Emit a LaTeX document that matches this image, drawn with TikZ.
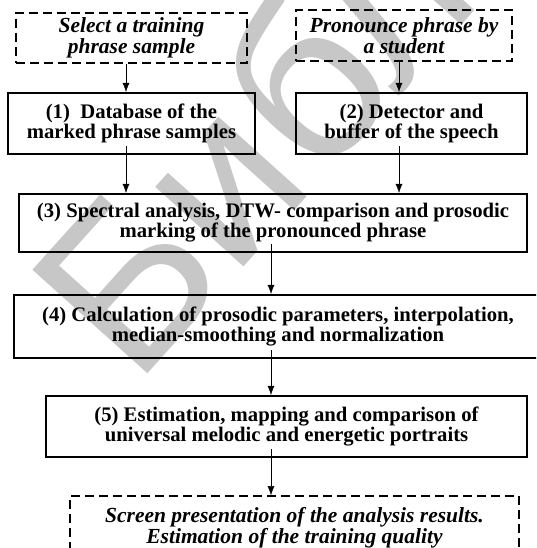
\documentclass[tikz,border=0pt]{standalone}
\usepackage{fontspec}
\setmainfont{Liberation Serif}
\newfontfamily\wmfont{Liberation Sans}
\usepackage{tikz}
\usetikzlibrary{arrows.meta}
\tikzset{>={Latex[length=9pt,width=7pt]}}
\tikzset{
  stage/.style={draw, line width=2.2pt, align=center, inner sep=2pt,
    font=\fontsize{20.7}{16.5}\selectfont\bfseries},
  extbox/.style={draw, line width=1.6pt, dash pattern=on 9pt off 5pt,
    align=center, inner sep=2pt,
    font=\fontsize{21.5}{16.5}\selectfont\bfseries\itshape},
  inbox/.style={shorten <=-9pt},
  watermark/.style={text=black!22, rotate=48, anchor=base west, inner sep=0pt,
    font=\wmfont\fontsize{225}{225}\selectfont}
}

\begin{document}
\begin{tikzpicture}[x=1pt, y=-1pt]
      \useasboundingbox (0, 0) rectangle (536, 548);
      \clip (0, 0) rectangle (536, 548);
      \fill[white] (0, 0) rectangle (536, 548);
      \node[watermark] (wm) at (135, 388) {Библ};
      % columns of the connectors
      \coordinate (colL) at (126, 0);
      \coordinate (colR) at (399, 0);
      \coordinate (colM) at (271, 0);
      \node[extbox, minimum width=231, minimum height=50] (sel) at (131.5, 38)
        {Select a training\\phrase sample};
      \node[extbox, minimum width=216, minimum height=51] (pron) at (404, 35.5)
        {Pronounce phrase by\\a student};
      \node[stage, minimum width=247, minimum height=61] (db) at (131.5, 123.5)
        {(1)\ \ Database of the\\marked phrase samples};
      \node[stage, minimum width=231, minimum height=61] (det) at (411.5, 123.5)
        {(2) Detector and\\buffer of the speech};
      \node[stage, minimum width=508, minimum height=58] (spec) at (273, 223)
        {(3) Spectral analysis, DTW- comparison and prosodic\\marking of the pronounced phrase};
      \node[stage, minimum width=528, minimum height=63] (calc) at (278, 326.5)
        {(4) Calculation of prosodic parameters, interpolation,\\median-smoothing and normalization};
      \node[stage, minimum width=481, minimum height=61] (est) at (286.5, 426.5)
        {(5) Estimation, mapping and comparison of\\universal melodic and energetic portraits};
      \node[extbox, minimum width=449, minimum height=64] (scr) at (294.5, 528)
        {Screen presentation of the analysis results.\\Estimation of the training quality};
      \draw[->] (sel.south -| colL) -- (db.north -| colL);
      \draw[->] (pron.south -| colR) -- (det.north -| colR);
      \draw[->, inbox] (db.south -| colL) -- (spec.north -| colL);
      \draw[->, inbox] (det.south -| colR) -- (spec.north -| colR);
      \draw[->, inbox] (spec.south -| colM) -- (calc.north -| colM);
      \draw[->, inbox] (calc.south -| colM) -- (est.north -| colM);
      \draw[->, inbox] (est.south -| colM) -- (scr.north -| colM);
    \end{tikzpicture}
\end{document}
